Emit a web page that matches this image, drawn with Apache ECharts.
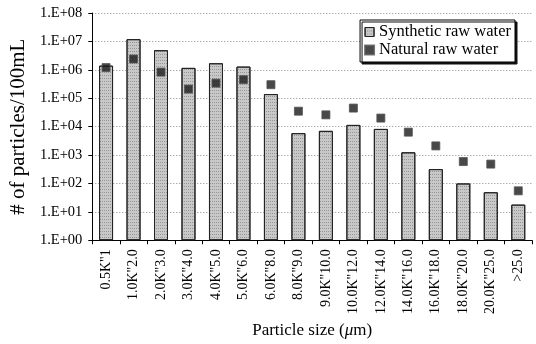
<!DOCTYPE html>
<html>
<head>
<meta charset="utf-8">
<script src="https://cdn.jsdelivr.net/npm/echarts@6/dist/echarts.min.js"></script>
<style>html,body{margin:0;padding:0;background:#fff}#c{width:536px;height:344px}</style>
</head>
<body>
<div id="c"></div>
<script>
const categories = ['0.5K"1','1.0K"2.0','2.0K"3.0','3.0K"4.0','4.0K"5.0','5.0K"6.0','6.0K"8.0','8.0K"9.0','9.0K"10.0','10.0K"12.0','12.0K"14.0','14.0K"16.0','16.0K"18.0','18.0K"20.0','20.0K"25.0','>25.0'];
const syntheticRaw = [1.4e6, 1.2e7, 4.9e6, 1.17e6, 1.7e6, 1.3e6, 1.4e5, 5.9e3, 7.1e3, 1.15e4, 8.3e3, 1.25e3, 3.2e2, 1.0e2, 49, 18];
const naturalRaw = [1.2e6, 2.4e6, 8.3e5, 2.1e5, 3.4e5, 4.5e5, 3.0e5, 3.5e4, 2.6e4, 4.5e4, 2.0e4, 6.4e3, 2.1e3, 5.9e2, 4.8e2, 55];
const seriesNames = ['Synthetic raw water', 'Natural raw water'];

const font = '"Liberation Serif", "DejaVu Serif", serif';
const chart = echarts.init(document.getElementById('c'), null, {renderer: 'canvas'});
chart.setOption({
  animation: false,
  backgroundColor: '#fff',
  textStyle: {fontFamily: font, color: '#000'},
  grid: {left: 82, top: 13, right: 4, bottom: 95, containLabel: false},
  legend: {
    orient: 'vertical',
    right: 21, top: 20,
    data: [
      {name: seriesNames[0], icon: 'rect', itemStyle: {color: '#c8c8c8', borderColor: '#222', borderWidth: 1}},
      {name: seriesNames[1], icon: 'rect'}
    ],
    itemWidth: 9, itemHeight: 9, itemGap: 0,
    padding: [3, 4, 3, 4],
    borderColor: '#000', borderWidth: 1,
    backgroundColor: '#fff',
    shadowColor: '#111', shadowBlur: 0, shadowOffsetX: 2, shadowOffsetY: 2,
    textStyle: {fontFamily: font, fontSize: 16.5, lineHeight: 18, color: '#000'}
  },
  xAxis: {
    type: 'category',
    data: categories,
    name: 'Particle size ({u|μ}m)',
    nameLocation: 'middle',
    nameGap: 73,
    nameTextStyle: {fontFamily: font, fontSize: 17, color: '#000',
      rich: {u: {fontFamily: font, fontSize: 17, fontStyle: 'italic', color: '#000'}}},
    axisLine: {lineStyle: {color: '#000', width: 1}},
    axisTick: {show: true, length: 4, lineStyle: {color: '#000'}},
    axisLabel: {rotate: 90, fontFamily: font, fontSize: 14, color: '#000', margin: 9}
  },
  yAxis: {
    type: 'log',
    logBase: 10,
    min: 1, max: 1e8,
    name: '# of particles/100mL',
    nameLocation: 'middle',
    nameGap: 57,
    nameTextStyle: {fontFamily: font, fontSize: 21, color: '#000'},
    axisLine: {show: true, lineStyle: {color: '#000', width: 1}},
    axisTick: {show: true, length: 4, lineStyle: {color: '#000'}},
    axisLabel: {fontFamily: font, fontSize: 14.5, color: '#000', margin: 10,
      formatter: v => '1.E+' + String(Math.round(Math.log10(v))).padStart(2, '0')},
    splitLine: {show: true, lineStyle: {color: '#888', type: [1, 2], width: 1}}
  },
  series: [
    {
      name: seriesNames[0], type: 'bar', data: syntheticRaw, barWidth: 14,
      itemStyle: {color: '#c8c8c8', borderColor: '#222', borderWidth: 1,
        decal: {symbol: 'rect', symbolSize: 1, color: 'rgba(0,0,0,0.25)', dashArrayX: [1, 1], dashArrayY: [1, 2], rotation: 0}}
    },
    {
      name: seriesNames[1], type: 'scatter', data: naturalRaw, symbol: 'rect', symbolSize: 8,
      itemStyle: {color: '#1a1a1a', borderColor: '#555', borderWidth: 1}
    }
  ]
});
</script>
</body>
</html>
